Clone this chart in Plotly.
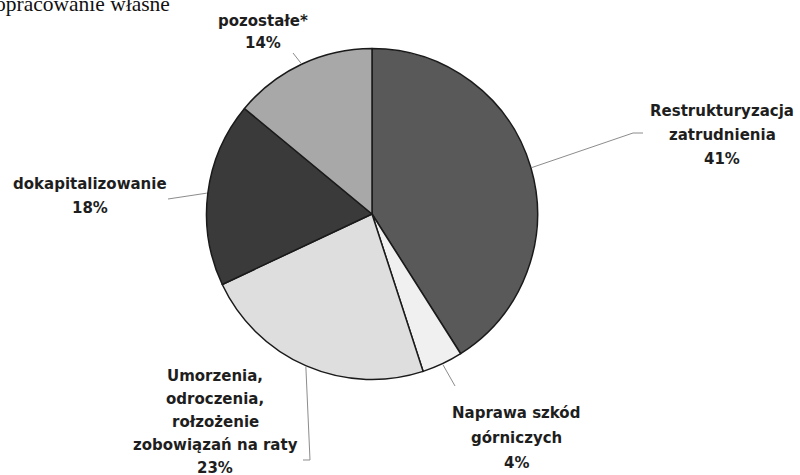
import math
import plotly.graph_objects as go

# ---- data ----
categories = [
    "Restrukturyzacja<br>zatrudnienia",
    "Naprawa szkód<br>górniczych",
    "Umorzenia,<br>odroczenia,<br>rołzożenie<br>zobowiązań na raty",
    "dokapitalizowanie",
    "pozostałe*",
]
values = [41, 4, 23, 18, 14]
colors = ["#595959", "#f0f0f0", "#dedede", "#3a3a3a", "#a8a8a8"]
source_note = "opracowanie własne"

# ---- layout constants (pixels) ----
W, H = 800, 475
CX, CY, R = 372, 214, 165.5

# label centre x, first-line centre y, line spacing
label_pos = [
    (722, 111, 24),
    (516, 413, 25),
    (215, 376, 23),
    (89.5, 184, 24),
    (263, 21, 22),
]
# leader line extra points (pixels), from slice edge outwards
leader_pts = [
    [(633, 133), (643, 133)],
    [(455, 386)],
    [(310, 460), (303, 460)],
    [(168, 199)],
    [(293, 53)],
]


def px(x):
    return x / W


def py(y):
    return 1 - y / H


fig = go.Figure(
    go.Pie(
        labels=[c.replace("<br>", " ") for c in categories],
        values=values,
        sort=False,
        direction="clockwise",
        rotation=0,
        marker=dict(colors=colors, line=dict(color="#1a1a1a", width=1.5)),
        textinfo="none",
        hoverinfo="label+percent",
        showlegend=False,
        domain=dict(x=[px(CX - R), px(CX + R)], y=[py(CY + R), py(CY - R)]),
    )
)

annotations = []
shapes = []
total = sum(values)
cum = 0
for i, (cat, v) in enumerate(zip(categories, values)):
    mid = (cum + v / 2) / total * 2 * math.pi
    cum += v
    ex = CX + (R + 1) * math.sin(mid)
    ey = CY - (R + 1) * math.cos(mid)
    pts = [(ex, ey)] + leader_pts[i]
    path = "M " + " L ".join(f"{px(x):.5f},{py(y):.5f}" for x, y in pts)
    shapes.append(dict(type="path", xref="paper", yref="paper", path=path,
                       line=dict(color="#8c8c8c", width=1)))
    lines = cat.split("<br>") + [f"{v}%"]
    lx, ly, sp = label_pos[i]
    for j, t in enumerate(lines):
        annotations.append(dict(
            x=px(lx), y=py(ly + j * sp), xref="paper", yref="paper",
            text=f"<b>{t}</b>", showarrow=False, xanchor="center", yanchor="middle",
            font=dict(family="DejaVu Sans", size=15, color="#1e1e1e"),
        ))

annotations.append(dict(
    x=px(-7), y=py(4), xref="paper", yref="paper", text=source_note,
    showarrow=False, xanchor="left", yanchor="middle",
    font=dict(family="Liberation Serif", size=21.5, color="#111111"),
))

fig.update_layout(
    width=W, height=H,
    margin=dict(l=0, r=0, t=0, b=0),
    paper_bgcolor="white", plot_bgcolor="white",
    annotations=annotations, shapes=shapes,
)

fig.write_html("out.html", config={"displayModeBar": False},
               post_script="document.body.style.margin='0';")
